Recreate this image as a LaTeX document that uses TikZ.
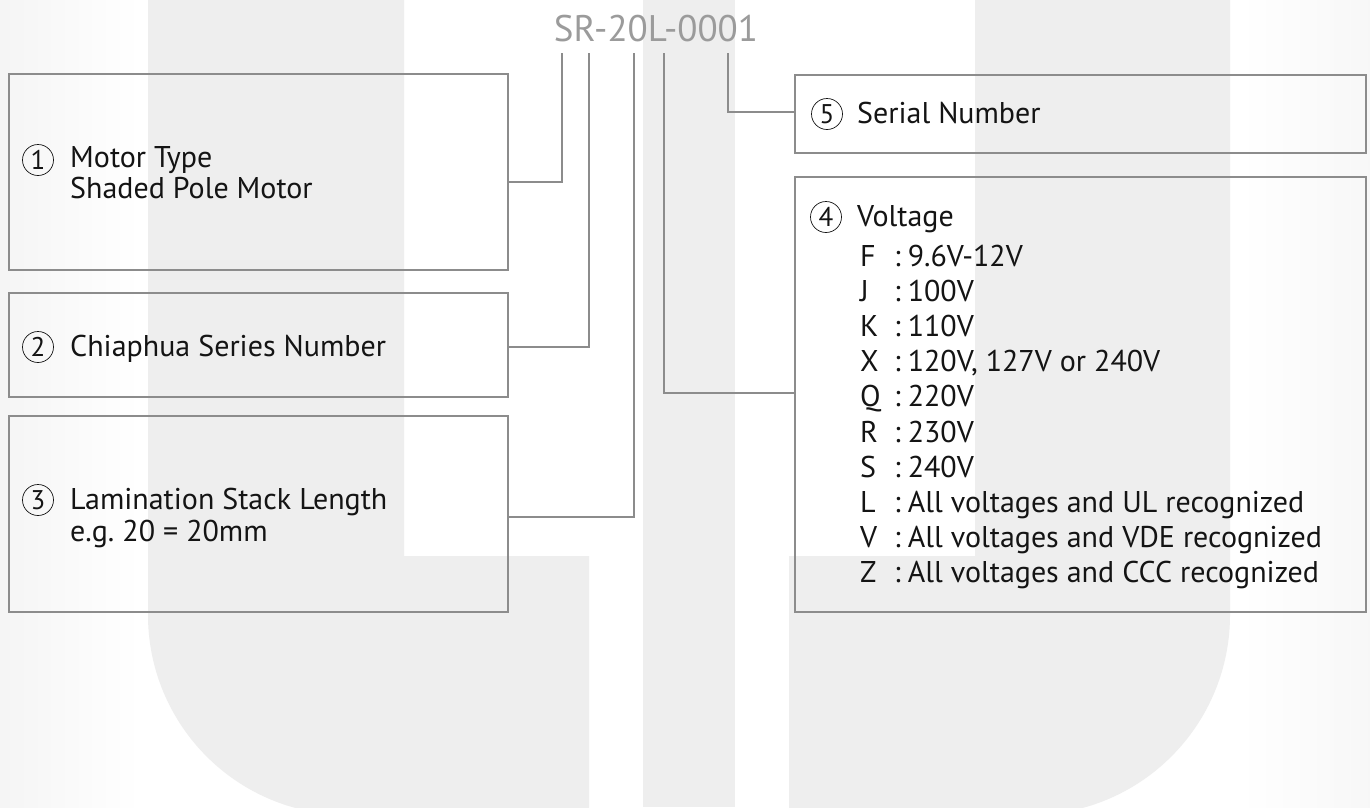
\documentclass[tikz,border=0pt]{standalone}
\usepackage{fontspec}
\setmainfont{PT Sans}
\frenchspacing
\definecolor{bg}{RGB}{238,238,238}
\definecolor{boxgray}{RGB}{140,140,140}
\definecolor{linegray}{RGB}{140,140,140}
\definecolor{textblack}{RGB}{20,20,20}
\definecolor{titlegray}{RGB}{155,155,155}
\begin{document}
\begin{tikzpicture}[x=1pt,y=-1pt,
  box/.style={draw=boxgray, line width=1.8pt, anchor=north west, inner sep=0pt, outer sep=0pt},
  conn/.style={draw=linegray, line width=1.6pt},
  txt/.style={anchor=base west, inner sep=0pt, text=textblack, font=\fontsize{30}{34}\selectfont},
  num/.style={circle, draw=textblack, line width=0.7pt, minimum size=31pt, inner sep=0pt, text=textblack, font=\fontsize{27}{27}\selectfont},
  title/.style={anchor=base, inner sep=0pt, text=titlegray, font=\fontsize{37}{37}\selectfont}
  ]
\useasboundingbox (0,0) rectangle (1370,807);
\begin{scope}
\clip (0,0) rectangle (1370,807);
\fill[white] (0,0) rectangle (1370,807);
\shade[left color=black!4, right color=white] (0,0) rectangle (140,807);
\shade[left color=white, right color=black!3] (1240,0) rectangle (1370,807);
% background logo shapes
\fill[bg] (148,0) -- (148,615) arc[start angle=180, end angle=100, radius=200]
   -- (589,830) -- (589,556) -- (404,556) -- (404,0) -- cycle;
\fill[bg] (643,0) rectangle (735,807);
\fill[bg] (1230,0) -- (1230,615) arc[start angle=0, end angle=80, radius=200]
   -- (789,830) -- (789,556) -- (975,556) -- (975,0) -- cycle;
\end{scope}

% title
\node[title] (title) at (656,41) {SR-20L-0001};

% boxes
\node[box, minimum width=499pt, minimum height=196pt] (b1) at (9,74) {};
\node[box, minimum width=499pt, minimum height=104pt] (b2) at (9,293) {};
\node[box, minimum width=499pt, minimum height=196pt] (b3) at (9,416) {};
\node[box, minimum width=571pt, minimum height=78pt] (b5) at (795,75) {};
\node[box, minimum width=571pt, minimum height=435pt] (b4) at (795,177) {};

% connector tops and junction heights
\coordinate (t1) at (562,53);
\coordinate (t2) at (589,53);
\coordinate (t3) at (634,53);
\coordinate (t4) at (664,53);
\coordinate (t5) at (728,53);
\coordinate (j1) at (0,182);
\coordinate (j2) at (0,347);
\coordinate (j3) at (0,517);
\coordinate (j4) at (0,393);
\coordinate (j5) at (0,112);

\draw[conn] (t1) |- (b1.east |- j1);
\draw[conn] (t2) |- (b2.east |- j2);
\draw[conn] (t3) |- (b3.east |- j3);
\draw[conn] (t4) |- (b4.west |- j4);
\draw[conn] (t5) |- (b5.west |- j5);

% box texts
\node[num] (n1) at (38,160) {1};
\node[txt] (l1a) at (70,167) {Motor Type};
\node[txt] (l1b) at (70,198) {Shaded Pole Motor};
\node[num] (n2) at (38,347) {2};
\node[txt] (l2) at (70,356) {Chiaphua Series Number};
\node[num] (n3) at (38,500) {3};
\node[txt] (l3a) at (70,509) {Lamination Stack Length};
\node[txt] (l3b) at (70,541) {e.g.\ 20 = 20mm};
\node[num] (n5) at (827,114) {5};
\node[txt] (l5) at (857,123) {Serial Number};
\node[num] (n4) at (826,217) {4};
\node[txt] (l4) at (857,226) {Voltage};

\foreach \k/\v [count=\i from 0] in {F/9.6V-12V, J/100V, K/110V, X/{120V, 127V or 240V}, Q/220V, R/230V, S/240V, L/All voltages and UL recognized, V/All voltages and VDE recognized, Z/All voltages and CCC recognized}{
  \node[txt] (v\i) at (860,266+35.2*\i) {\makebox[34pt][l]{\k}:\hspace{7pt}\v};
}
\end{tikzpicture}
\end{document}
